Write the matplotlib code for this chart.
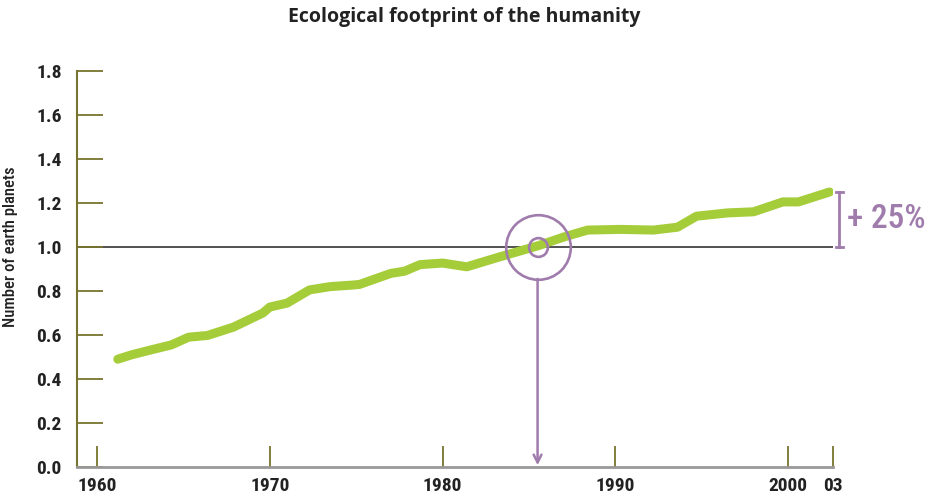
import matplotlib.pyplot as plt

years = [1961.2, 1962.0, 1963.0, 1964.3, 1965.3, 1966.4, 1967.9, 1969.6, 1970.0,
         1971.0, 1972.3, 1973.5, 1974.8, 1975.2, 1977.0, 1977.8, 1978.7, 1980.0,
         1981.4, 1983.3, 1985.5, 1987.0, 1988.4, 1990.3, 1992.2, 1993.6, 1994.7,
         1996.5, 1998.0, 1999.7, 2000.6, 2002.4]
planets = [0.49, 0.51, 0.53, 0.555, 0.59, 0.598, 0.636, 0.70, 0.727,
           0.745, 0.805, 0.82, 0.827, 0.83, 0.88, 0.89, 0.92, 0.927,
           0.91, 0.955, 1.005, 1.045, 1.077, 1.08, 1.077, 1.09, 1.14,
           1.155, 1.16, 1.205, 1.205, 1.25]

x_ticks = [1960, 1970, 1980, 1990, 2000, 2002.6]
x_labels = ["1960", "1970", "1980", "1990", "2000", "03"]
y_ticks = [0.0, 0.2, 0.4, 0.6, 0.8, 1.0, 1.2, 1.4, 1.6, 1.8]
y_labels = ["0.0", "0.2", "0.4", "0.6", "0.8", "1.0", "1.2", "1.4", "1.6", "1.8"]

crossing_year = 1985.5
increase_label = "+ 25%"

green = "#a5cd39"
purple = "#a07cad"
olive = "#77742f"
narrow = ["Roboto Condensed", "DejaVu Sans"]

fig = plt.figure(figsize=(9.29, 4.96), dpi=100)
ax = fig.add_axes([77 / 929, 1 - 467 / 496, (833 - 77) / 929, (467 - 71) / 496])

ax.set_xlim(1958.84, 2002.6)
ax.set_ylim(0, 1.8)

ax.axhline(1.0, color="#333333", lw=1.2, zorder=1)
ax.plot(years, planets, color=green, lw=6.5, solid_capstyle="round",
        solid_joinstyle="round", zorder=3)

# circle around the crossing point
ax.plot([crossing_year], [1.0], marker="o", ms=46.5, mfc="none", mec=purple,
        mew=1.9, zorder=4, clip_on=False)
ax.plot([crossing_year], [1.0], marker="o", ms=13.5, mfc="none", mec=purple,
        mew=1.9, zorder=4)
ax.annotate("", xy=(crossing_year, 0.008), xytext=(crossing_year, 0.855),
            arrowprops=dict(arrowstyle="->", color=purple, lw=1.8,
                            mutation_scale=14, shrinkA=0, shrinkB=0))

# +25% bracket
bx = 2002.96
ax.plot([bx, bx], [1.0, 1.25], color=purple, lw=2, clip_on=False)
ax.plot([bx - 0.2, bx + 0.2], [1.0, 1.0], color=purple, lw=2, clip_on=False)
ax.plot([bx - 0.2, bx + 0.2], [1.25, 1.25], color=purple, lw=2, clip_on=False)
ax.text(2003.4, 1.125, increase_label, color=purple, fontsize=24,
        family=narrow, fontweight="medium", va="center", ha="left", clip_on=False)

for s in ["top", "right"]:
    ax.spines[s].set_visible(False)
ax.spines["left"].set_color(olive)
ax.spines["left"].set_linewidth(1.5)
ax.spines["bottom"].set_color("#999999")
ax.spines["bottom"].set_linewidth(2)

ax.set_yticks(y_ticks)
ax.set_yticklabels(y_labels, family=narrow, fontweight="bold", fontsize=14,
                   color="#222222")
ax.set_xticks(x_ticks)
ax.set_xticklabels(x_labels, family=narrow, fontweight="bold", fontsize=14,
                   color="#222222")
ax.tick_params(axis="y", direction="in", length=19, width=1.3, color=olive, pad=11)
ax.tick_params(axis="x", direction="in", length=15, width=1.3, color=olive, pad=7)

ax.set_ylabel("Number of earth planets", family=narrow, fontsize=12,
              fontweight="medium", color="#222222")
ax.yaxis.set_label_coords(-0.078, 0.556)
fig.suptitle("Ecological footprint of the humanity", x=0.5, y=0.985,
             fontsize=14, fontweight="bold", color="#222222",
             family=["Open Sans", "DejaVu Sans"])

plt.savefig("out.png", dpi=100)
